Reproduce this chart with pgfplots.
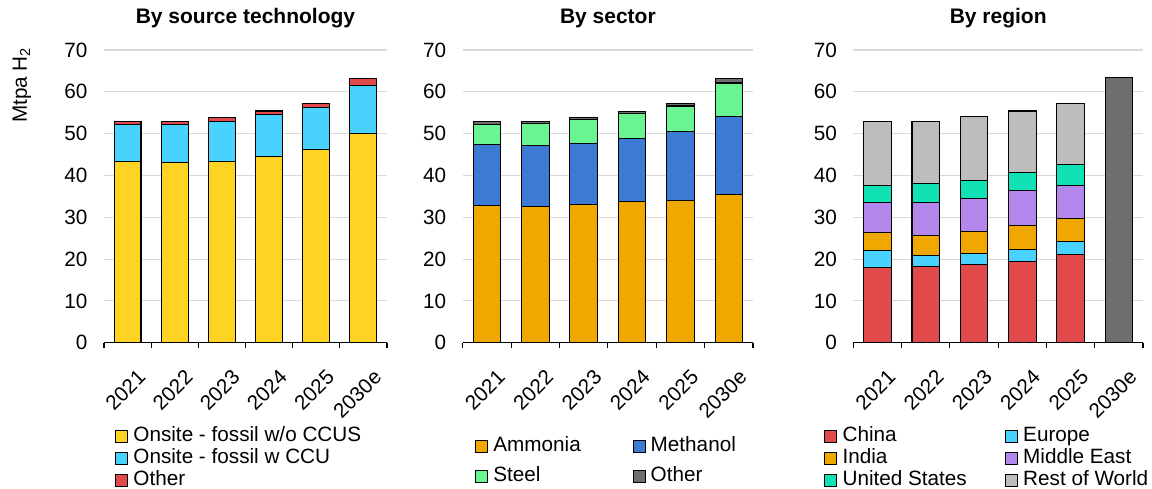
\documentclass[border=0pt]{standalone}
\usepackage{fontspec}
\setmainfont{Liberation Sans}
\usepackage{pgfplots}
\pgfplotsset{compat=1.18}

\definecolor{cYel}{HTML}{FFD324}
\definecolor{cSky}{HTML}{4AD2FF}
\definecolor{cRed}{HTML}{E04A4A}
\definecolor{cOra}{HTML}{F0A800}
\definecolor{cBlu}{HTML}{3D7AD4}
\definecolor{cGrn}{HTML}{6AF593}
\definecolor{cDgr}{HTML}{6D6E6D}
\definecolor{cPur}{HTML}{B387EC}
\definecolor{cTea}{HTML}{10E2B4}
\definecolor{cLgr}{HTML}{BDBDBD}
\definecolor{gridc}{HTML}{D9D9D9}

\newcommand{\fs}{\fontsize{13.8}{16}\selectfont}

\pgfplotsset{
  sqlegend/.style={legend image code/.code={%
    \draw[##1,draw=black,line width=0.6pt] (0pt,-4pt) rectangle (8pt,4pt);}},
  panel/.style={
    scale only axis, height=195.2pt, anchor=south west,
    ybar stacked, bar width=0.57,
    xmin=-0.5, xmax=5.5, ymin=0, ymax=70,
    xtick={0,...,5}, xticklabels={2021,2022,2023,2024,2025,2030e},
    minor xtick={-0.5,0.5,...,5.5},
    ytick={0,10,...,70},
    ymajorgrids, major grid style={draw=gridc, line width=0.75pt},
    axis x line*=bottom, axis y line*=left,
    x axis line style={black, line width=0.8pt},
    y axis line style={draw=none},
    ytick style={draw=none},
    major x tick style={draw=none},
    minor x tick style={draw=black, line width=0.75pt},
    tick align=outside, minor tick length=3.8pt, major tick length=3.8pt,
    /pgf/number format/assume math mode=true,
    tick label style={font=\fs},
    yticklabel style={inner sep=0pt, xshift=-7pt},
    xticklabel style={anchor=north east, rotate=45, inner sep=0pt, xshift=-5pt, yshift=-13.5pt},
    title style={at={(0.5,1)}, anchor=base, yshift=11.3pt, font=\fontsize{14}{16}\selectfont\bfseries},
    ylabel style={font=\fs},
    every axis plot/.append style={draw=black, line width=0.7pt, sqlegend},
    legend cell align=left,
    legend style={draw=none, fill=none, inner sep=0pt, anchor=north west, font=\fs,
      row sep=0.7pt, nodes={inner sep=0.5pt, text height=10pt, text depth=3pt},
      /tikz/every odd column/.append style={column sep=3pt}},
  }
}

\begin{document}
\begin{tikzpicture}
\path[use as bounding box] (0,0) rectangle (768pt,326pt);

% by source technology
\begin{axis}[panel, at={(69.3pt,97.5pt)}, width=188.7pt,
  title={By source technology},
  ylabel={Mtpa H\textsubscript{2}},
  ylabel style={at={(axis description cs:-0.29,0.88)}, anchor=center},
  legend style={at={(0.039,-0.283)}}]
\addplot[fill=cYel] coordinates {(0,43.4)(1,43.2)(2,43.4)(3,44.5)(4,46.1)(5,50.1)};
\addplot[fill=cSky] coordinates {(0,8.8)(1,9.0)(2,9.6)(3,10.0)(4,10.1)(5,11.5)};
\addplot[fill=cRed] coordinates {(0,0.7)(1,0.7)(2,0.9)(3,0.9)(4,1.1)(5,1.6)};
\legend{Onsite - fossil w/o CCUS, Onsite - fossil w CCU, Other}
\end{axis}

% by sector
\begin{axis}[panel, at={(308.5pt,97.5pt)}, width=193.5pt,
  title={By sector},
  legend columns=2,
  legend style={at={(0.042,-0.318)}, row sep=6pt,
    /tikz/every even column/.append style={column sep=34pt}}]
\addplot[fill=cOra] coordinates {(0,32.9)(1,32.5)(2,33.0)(3,33.8)(4,34.1)(5,35.4)};
\addplot[fill=cBlu] coordinates {(0,14.4)(1,14.6)(2,14.7)(3,15.1)(4,16.4)(5,18.8)};
\addplot[fill=cGrn] coordinates {(0,4.9)(1,5.4)(2,5.6)(3,5.8)(4,6.1)(5,7.9)};
\addplot[fill=cDgr] coordinates {(0,0.7)(1,0.5)(2,0.5)(3,0.6)(4,0.5)(5,1.1)};
\legend{Ammonia, Methanol, Steel, Other}
\end{axis}

% by region
\begin{axis}[panel, at={(568.9pt,97.5pt)}, width=193.1pt,
  title={By region},
  legend columns=2,
  legend style={at={(-0.101,-0.283)},
    /tikz/every even column/.append style={column sep=25pt}}]
\addplot[fill=cRed] coordinates {(0,18.0)(1,18.2)(2,18.7)(3,19.5)(4,21.1)(5,0)};
\addplot[fill=cSky] coordinates {(0,4.0)(1,2.7)(2,2.6)(3,2.8)(4,3.0)(5,0)};
\addplot[fill=cOra] coordinates {(0,4.4)(1,4.7)(2,5.3)(3,5.8)(4,5.6)(5,0)};
\addplot[fill=cPur] coordinates {(0,7.2)(1,8.0)(2,7.9)(3,8.3)(4,8.0)(5,0)};
\addplot[fill=cTea] coordinates {(0,4.0)(1,4.4)(2,4.4)(3,4.3)(4,4.8)(5,0)};
\addplot[fill=cLgr] coordinates {(0,15.4)(1,15.0)(2,15.1)(3,14.7)(4,14.8)(5,0)};
\addplot[fill=cDgr] coordinates {(0,0)(1,0)(2,0)(3,0)(4,0)(5,63.3)};
\legend{China, Europe, India, Middle East, United States, Rest of World}
\end{axis}
\end{tikzpicture}
\end{document}
